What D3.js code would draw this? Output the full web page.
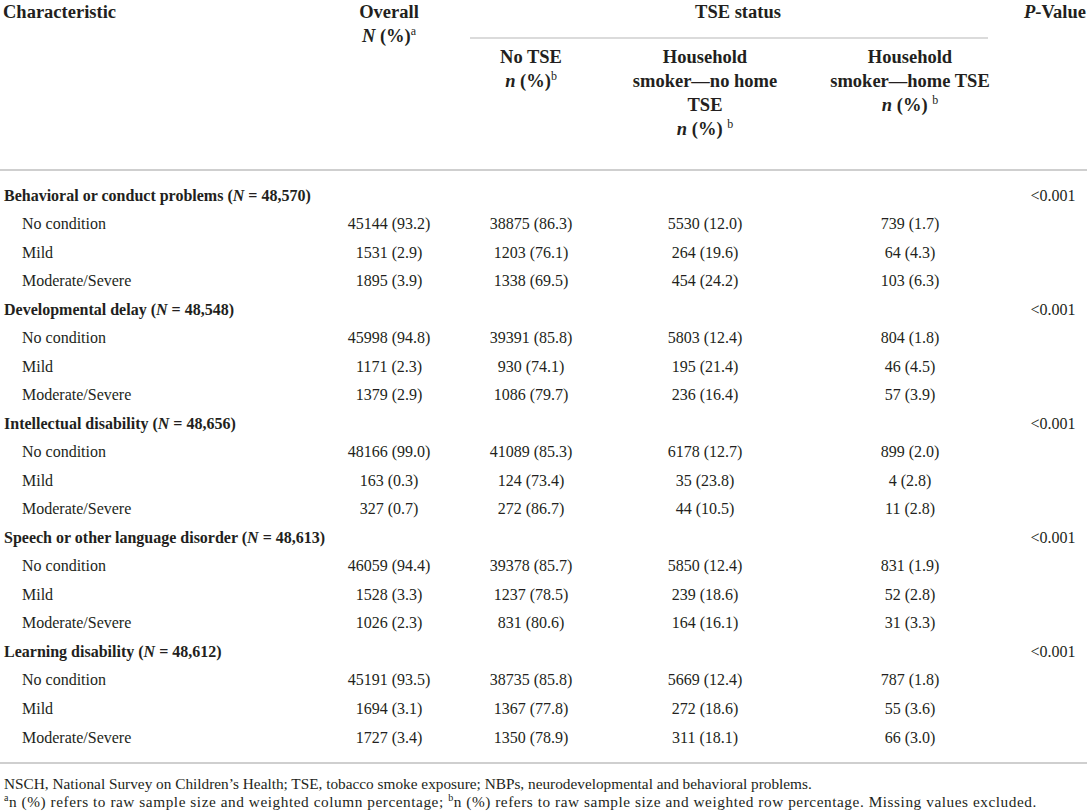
<!DOCTYPE html>
<html lang="en">
<head>
<meta charset="UTF-8">
<script src="https://d3js.org/d3.v7.min.js"></script>
<title>TSE status table</title>
<style>
  body { margin: 0; background: #fff; }
  svg { display: block; font-family: "Liberation Serif", "DejaVu Serif", serif; fill: #231f20; }
</style>
</head>
<body>
<svg id="svg1" width="1089" height="811"></svg>
<script>
// ---- data ----
const groups = ["Behavioral or conduct problems", "Developmental delay", "Intellectual disability",
                "Speech or other language disorder", "Learning disability"];
const groupN = ["48,570", "48,548", "48,656", "48,613", "48,612"];
const levels = ["No condition", "Mild", "Moderate/Severe"];
const pValues = ["<0.001", "<0.001", "<0.001", "<0.001", "<0.001"];

const overallN   = [[45144, 1531, 1895], [45998, 1171, 1379], [48166, 163, 327], [46059, 1528, 1026], [45191, 1694, 1727]];
const overallPct = [[93.2, 2.9, 3.9], [94.8, 2.3, 2.9], [99.0, 0.3, 0.7], [94.4, 3.3, 2.3], [93.5, 3.1, 3.4]];
const noTseN     = [[38875, 1203, 1338], [39391, 930, 1086], [41089, 124, 272], [39378, 1237, 831], [38735, 1367, 1350]];
const noTsePct   = [[86.3, 76.1, 69.5], [85.8, 74.1, 79.7], [85.3, 73.4, 86.7], [85.7, 78.5, 80.6], [85.8, 77.8, 78.9]];
const noHomeN    = [[5530, 264, 454], [5803, 195, 236], [6178, 35, 44], [5850, 239, 164], [5669, 272, 311]];
const noHomePct  = [[12.0, 19.6, 24.2], [12.4, 21.4, 16.4], [12.7, 23.8, 10.5], [12.4, 18.6, 16.1], [12.4, 18.6, 18.1]];
const homeN      = [[739, 64, 103], [804, 46, 57], [899, 4, 11], [831, 52, 31], [787, 55, 66]];
const homePct    = [[1.7, 4.3, 6.3], [1.8, 4.5, 3.9], [2.0, 2.8, 2.8], [1.9, 2.8, 3.3], [1.8, 3.6, 3.0]];

const columns = ["overall", "noTse", "noHome", "home", "p"];

// ---- layout ----
const svg = d3.select("#svg1");
const width = +svg.attr("width");
const fontSize = 16;
const headSize = 18.5;
const lineColor = "#cfcfcf";

const colX = d3.scaleOrdinal().domain(columns).range([389, 531, 705, 910, 1053]);
const rowCount = groups.length * (levels.length + 1);
const rowY = d3.scaleLinear().domain([0, rowCount - 1]).range([195, 737]);
const fmtPct = d3.format(".1f");

svg.append("rect").attr("width", width).attr("height", 811).attr("fill", "#fff");

// ---- header ----
const header = svg.append("g").attr("font-weight", "bold").attr("font-size", headSize);
const hLine = i => 18 + i * 24;   // header baselines

header.append("text").attr("x", 3).attr("y", hLine(0)).text("Characteristic");

header.append("text").attr("x", colX("overall")).attr("y", hLine(0)).attr("text-anchor", "middle").text("Overall");
let t = header.append("text").attr("x", colX("overall")).attr("y", hLine(1)).attr("text-anchor", "middle");
t.append("tspan").attr("font-style", "italic").text("N");
t.append("tspan").text(" (%)");
t.append("tspan").attr("font-weight", "normal").attr("font-size", 12).attr("dy", -7).text("a");

header.append("text").attr("x", 738).attr("y", hLine(0)).attr("text-anchor", "middle").text("TSE status");

t = header.append("text").attr("x", 1086).attr("y", hLine(0)).attr("text-anchor", "end");
t.append("tspan").attr("font-style", "italic").text("P");
t.append("tspan").text("-Value");

// sub headers
const subHeads = [
  ["noTse",  ["No TSE"], "n (%)"],
  ["noHome", ["Household", "smoker\u2014no home", "TSE"], "n (%) "],
  ["home",   ["Household", "smoker\u2014home TSE"], "n (%) "]
];
subHeads.forEach(([col, lines, unit]) => {
  lines.forEach((l, i) => {
    header.append("text").attr("x", colX(col)).attr("y", 63 + i * 24).attr("text-anchor", "middle").text(l);
  });
  const u = header.append("text").attr("x", colX(col)).attr("y", 63 + lines.length * 24).attr("text-anchor", "middle");
  u.append("tspan").attr("font-style", "italic").text("n");
  u.append("tspan").text(unit.slice(1));
  u.append("tspan").attr("font-weight", "normal").attr("font-size", 12).attr("dy", -7).text("b");
});

// rules
svg.append("line").attr("x1", 470).attr("x2", 988).attr("y1", 38).attr("y2", 38)
  .attr("stroke", lineColor).attr("stroke-width", 1.5);
svg.append("line").attr("x1", 0).attr("x2", 1087).attr("y1", 170).attr("y2", 170)
  .attr("stroke", lineColor).attr("stroke-width", 2);
svg.append("line").attr("x1", 0).attr("x2", 1087).attr("y1", 763).attr("y2", 763)
  .attr("stroke", lineColor).attr("stroke-width", 2);

// ---- body ----
const body = svg.append("g").attr("font-size", fontSize).attr("dominant-baseline", "central");
const cell = (n, p) => `${n} (${fmtPct(p)})`;

groups.forEach((g, gi) => {
  const r0 = gi * (levels.length + 1);
  const gl = body.append("text").attr("x", 4).attr("y", rowY(r0)).attr("font-weight", "bold");
  gl.append("tspan").text(g + " (");
  gl.append("tspan").attr("font-style", "italic").text("N");
  gl.append("tspan").text(" = " + groupN[gi] + ")");

  body.append("text").attr("x", colX("p")).attr("y", rowY(r0)).attr("text-anchor", "middle").text(pValues[gi]);

  levels.forEach((lv, li) => {
    const y = rowY(r0 + 1 + li);
    body.append("text").attr("x", 22).attr("y", y).text(lv);
    const vals = {
      overall: cell(overallN[gi][li], overallPct[gi][li]),
      noTse: cell(noTseN[gi][li], noTsePct[gi][li]),
      noHome: cell(noHomeN[gi][li], noHomePct[gi][li]),
      home: cell(homeN[gi][li], homePct[gi][li])
    };
    Object.keys(vals).forEach(c => {
      body.append("text").attr("x", colX(c)).attr("y", y).attr("text-anchor", "middle").text(vals[c]);
    });
  });
});

// ---- footnotes ----
const foot = svg.append("g").attr("font-size", 15.3);
foot.append("text").attr("x", 4).attr("y", 789)
  .text("NSCH, National Survey on Children\u2019s Health; TSE, tobacco smoke exposure; NBPs, neurodevelopmental and behavioral problems.");
const f2 = foot.append("text").attr("x", 4).attr("y", 807).attr("letter-spacing", 0.55);
f2.append("tspan").attr("font-size", 10).attr("dy", -6).text("a");
f2.append("tspan").attr("dy", 6).text("n (%) refers to raw sample size and weighted column percentage; ");
f2.append("tspan").attr("font-size", 10).attr("dy", -6).text("b");
f2.append("tspan").attr("dy", 6).text("n (%) refers to raw sample size and weighted row percentage. Missing values excluded.");
</script>
</body>
</html>
